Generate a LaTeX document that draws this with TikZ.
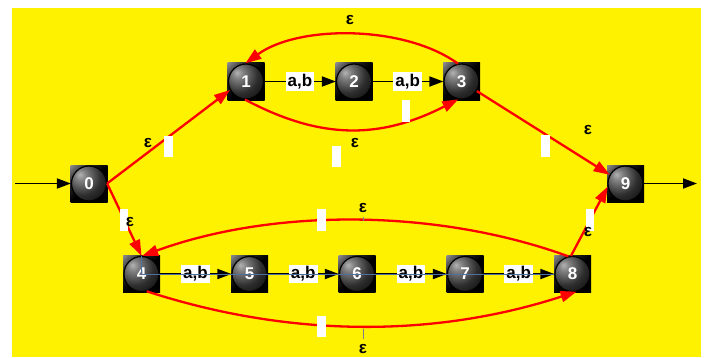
\documentclass[tikz,border=0pt]{standalone}
\usepackage{fontspec}
\setmainfont{Liberation Sans}
\usetikzlibrary{arrows.meta,backgrounds}
\pgfdeclareradialshading{nodeball}{\pgfpoint{-13bp}{13bp}}{color(0bp)=(black!30); color(8bp)=(black!50); color(26bp)=(black!82); color(45bp)=(black!97); color(100bp)=(black)}
\pgfdeclareverticalshading{sqshade}{100bp}{color(0bp)=(black); color(50bp)=(black); color(68bp)=(black!85); color(100bp)=(black!12)}
\definecolor{lineblue}{RGB}{80,110,160}
\tikzset{
  st/.style={circle, minimum size=35pt, inner sep=0pt, draw=black, line width=1.2pt,
    shade, shading=nodeball, text=white, font=\fontsize{17}{17}\selectfont\bfseries},
  sqbox/.style={shade, shading=sqshade, shading angle=45},
  redge/.style={draw=red, line width=2.3pt, -{Triangle[length=16pt,width=11pt]}},
  bedge/.style={draw=black, line width=1.8pt, -{Triangle[length=14pt,width=10pt]}},
  lab/.style={fill=white, inner sep=2pt, text=black, font=\fontsize{17}{17}\selectfont\bfseries},
  elab/.style={inner sep=0pt, text=black, font=\fontsize{17}{17}\selectfont\bfseries},
  ghost/.style={fill=white},
  tick/.style={draw=gray, line width=0.8pt},
  blueline/.style={draw=lineblue, line width=0.8pt},
}
\begin{document}
\begin{tikzpicture}[x=1pt,y=1pt]
\useasboundingbox (0,0) rectangle (704,357);
% nodes
\node[st] (n0) at (89,173.5) {0};
\node[st] (n1) at (246,275.5) {1};
\node[st] (n2) at (354,275.5) {2};
\node[st] (n3) at (461.5,275.5) {3};
\node[st] (n9) at (625.5,173.5) {9};
\node[st] (n4) at (141.5,83) {4};
\node[st] (n5) at (249.5,83) {5};
\node[st] (n6) at (357,83) {6};
\node[st] (n7) at (465,83) {7};
\node[st] (n8) at (572.5,83) {8};
\begin{scope}[on background layer]
  \fill[yellow] (12,0) rectangle (701,349);
  \foreach \n in {0,...,9}
    \shade[sqbox] ([shift={(-18.5pt,-18.5pt)}]n\n.center) rectangle ([shift={(18.5pt,18.5pt)}]n\n.center);
\end{scope}
% input / output
\coordinate (cin) at (15,173.5);
\coordinate (cout) at (697,173.5);
\draw[bedge] (cin) -- (n0);
\draw[bedge] (n9) -- (cout);
% a,b chains
\draw[bedge] (n1) -- node[lab] (l12) {a,b} (n2);
\draw[bedge] (n2) -- node[lab] (l23) {a,b} (n3);
\draw[bedge] (n4) -- node[lab] (l45) {a,b} (n5);
\draw[bedge] (n5) -- node[lab] (l56) {a,b} (n6);
\draw[bedge] (n6) -- node[lab] (l67) {a,b} (n7);
\draw[bedge] (n7) -- node[lab] (l78) {a,b} (n8);
% epsilon edges
\draw[redge] (n0.east) -- (n1.208);
\draw[redge] (n0.east) -- (n4.north);
\draw[redge] (n3.-32) -- (n9.151);
\draw[redge] (n8.95) -- (n9.190);
\draw[redge] (n3.101) to[out=144,in=36,distance=66pt] (n1.92);
\draw[redge] (n1.-93) to[out=-28,in=-153,distance=87pt] (n3.-100);
\draw[redge] (n8.103) to[out=160,in=20,distance=140pt] (n4.88);
\draw[redge] (n4.-73) to[out=-18,in=198,distance=150pt] (n8.-77);
% stray white patches
\fill[ghost] (164,200) rectangle (173,221);
\fill[ghost] (120,126) rectangle (128,148);
\fill[ghost] (402,235) rectangle (410,257);
\fill[ghost] (332,190) rectangle (341,211);
\fill[ghost] (541,200) rectangle (550,222);
\fill[ghost] (317,126) rectangle (326,148);
\fill[ghost] (586,126) rectangle (594,148);
\fill[ghost] (317,20) rectangle (326,41);
% ticks and thin line
\draw[tick] (363,28) -- (363,18);
\draw[tick] (363,140) -- (363,136);
\draw[blueline] (n4.north) -- (n4.center) -- (n8.west);
% epsilon labels
\node[elab] (e31) at (350,337) {ε};
\node[elab] (e13) at (355,214) {ε};
\node[elab] (e01) at (148,214) {ε};
\node[elab] (e04) at (130,135) {ε};
\node[elab] (e39) at (588,227) {ε};
\node[elab] (e84) at (363,149) {ε};
\node[elab] (e48) at (363,7.5) {ε};
\node[elab] (e89) at (588,125) {ε};
\end{tikzpicture}
\end{document}
